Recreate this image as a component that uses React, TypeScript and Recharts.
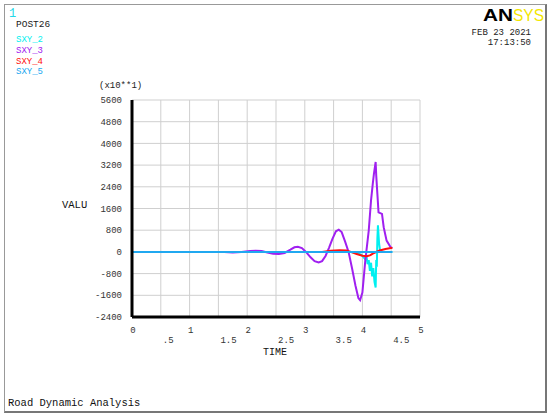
import { FC } from "react";
import { LineChart, Line, XAxis, YAxis, CartesianGrid } from "recharts";

// time values (s) and stresses (x10**1)
const time2 = [0, 3.8, 3.9, 3.98, 4.04, 4.07, 4.09, 4.11, 4.13, 4.15, 4.17, 4.19, 4.21, 4.23, 4.24, 4.25, 4.26, 4.27, 4.29, 4.31, 4.52];
const sxy2 = [0, 0, -40, -100, -250, -150, -450, -300, -700, -400, -900, -600, -1100, -1310, -300, -550, 500, 980, 300, 0, 0];

const time3 = [0, 1.6, 1.75, 1.9, 2.05, 2.15, 2.25, 2.35, 2.45, 2.55, 2.65, 2.75, 2.82, 2.88, 2.95, 3.02, 3.1, 3.17, 3.24, 3.3, 3.36, 3.42, 3.48, 3.54, 3.59, 3.64, 3.7, 3.76, 3.82, 3.88, 3.93, 3.96, 4.0, 4.05, 4.11, 4.15, 4.18, 4.2, 4.23, 4.24, 4.26, 4.28, 4.34, 4.37, 4.42, 4.49, 4.52];
const sxy3 = [0, 0, -20, 0, 30, 45, 30, -20, -70, -80, -40, 80, 170, 190, 140, 0, -200, -340, -390, -340, -150, 150, 480, 760, 820, 730, 380, 0, -600, -1250, -1700, -1780, -1500, -325, 785, 1900, 2510, 2880, 3315, 2820, 2140, 1460, 1400, 910, 415, 170, 140];

const time4 = [0, 3.3, 3.45, 3.6, 3.72, 3.8, 3.9, 4.0, 4.08, 4.14, 4.2, 4.3, 4.4, 4.52];
const sxy4 = [0, 0, 40, 60, 50, 0, -80, -140, -160, -120, -40, 50, 110, 150];

const time5 = [0, 1, 2, 3, 4, 4.52];
const sxy5 = [0, 0, 0, 0, 0, 0];

const yTicks = [-2400, -1600, -800, 0, 800, 1600, 2400, 3200, 4000, 4800, 5600];
const xTicks = [0, 0.5, 1, 1.5, 2, 2.5, 3, 3.5, 4, 4.5, 5];

const series = [
  { name: "SXY_2", color: "#00f0f0", t: time2, v: sxy2 },
  { name: "SXY_3", color: "#a020f0", t: time3, v: sxy3 },
  { name: "SXY_4", color: "#ff1010", t: time4, v: sxy4 },
  { name: "SXY_5", color: "#20a8f0", t: time5, v: sxy5 },
];

const mono = "'Liberation Mono', 'DejaVu Sans Mono', monospace";

const XTick = (props: any) => {
  const { x, y, payload } = props;
  const val: number = payload.value;
  const whole = Number.isInteger(val);
  const label = whole ? String(val) : String(val).replace(/^0/, "");
  return (
    <text
      x={whole ? x + 1 : x + 2}
      y={whole ? y + 8 : y + 18}
      textAnchor={whole ? "middle" : "start"}
      fontFamily={mono}
      fontSize={9}
      fill="#333"
    >
      {label}
    </text>
  );
};

const txt = (top: number, left: number, size: number, color = "#222") => ({
  position: "absolute" as const,
  top,
  left,
  fontFamily: mono,
  fontSize: size,
  color,
  lineHeight: 1,
  whiteSpace: "pre" as const,
});

const App: FC = () => {
  return (
    <div style={{ position: "absolute", left: 0, top: 0, width: 550, height: 417, background: "#fff" }}>
      <div
        style={{
          position: "absolute",
          left: 4,
          top: 4,
          width: 540,
          height: 406,
          borderLeft: "1px solid #999",
          borderTop: "1px solid #999",
          borderRight: "2px solid #777",
          borderBottom: "2px solid #777",
        }}
      />
      <LineChart
        width={550}
        height={417}
        margin={{ top: 100, right: 130, left: 72, bottom: 70 }}
        style={{ position: "absolute", left: 0, top: 0 }}
      >
        <CartesianGrid stroke="#cfcfcf" strokeWidth={1} />
        <XAxis
          dataKey="t"
          type="number"
          domain={[0, 5]}
          ticks={xTicks}
          interval={0}
          height={30}
          stroke="#000"
          strokeWidth={3}
          tickLine={false}
          tick={<XTick />}
          allowDuplicatedCategory={false}
        />
        <YAxis
          type="number"
          domain={[-2400, 5600]}
          ticks={yTicks}
          interval={0}
          width={60}
          stroke="#000"
          strokeWidth={3}
          tickLine={false}
          tickMargin={4}
          tick={{ fontFamily: mono, fontSize: 9, fill: "#333" }}
        />
        {series.map((s) => (
          <Line
            key={s.name}
            data={s.t.map((t, i) => ({ t, v: s.v[i] }))}
            dataKey="v"
            name={s.name}
            type="linear"
            stroke={s.color}
            strokeWidth={2}
            dot={false}
            isAnimationActive={false}
          />
        ))}
      </LineChart>

      <div style={txt(8, 9, 12, "#22d8e8")}>1</div>
      <div style={txt(20, 16, 9.5)}>POST26</div>
      {series.map((s, i) => (
        <div key={s.name} style={txt(36 + i * 10.8, 16, 9, s.color)}>
          {s.name}
        </div>
      ))}

      <svg width={70} height={26} style={{ position: "absolute", left: 480, top: 2 }}>
        <text x={3} y={19} fontFamily="'Liberation Sans', Arial, sans-serif" fontWeight={900} fontSize={17} textLength={30} lengthAdjust="spacingAndGlyphs" fill="#000">
          AN
        </text>
        <text x={33} y={19} fontFamily="'Liberation Sans', Arial, sans-serif" fontSize={17} textLength={31} lengthAdjust="spacingAndGlyphs" fill="#f2e600">
          SYS
        </text>
      </svg>
      <div style={{ ...txt(29, 430, 9), width: 101, textAlign: "right" }}>FEB 23 2021</div>
      <div style={{ ...txt(39, 430, 9), width: 101, textAlign: "right" }}>17:13:50</div>

      <div style={txt(82, 99, 9)}>(x10**1)</div>
      <div style={txt(200, 62, 10.5, "#111")}>VALU</div>
      <div style={txt(348, 263, 10, "#111")}>TIME</div>
      <div style={txt(398, 8, 10.5, "#111")}>Road Dynamic Analysis</div>
    </div>
  );
};

export default App;
